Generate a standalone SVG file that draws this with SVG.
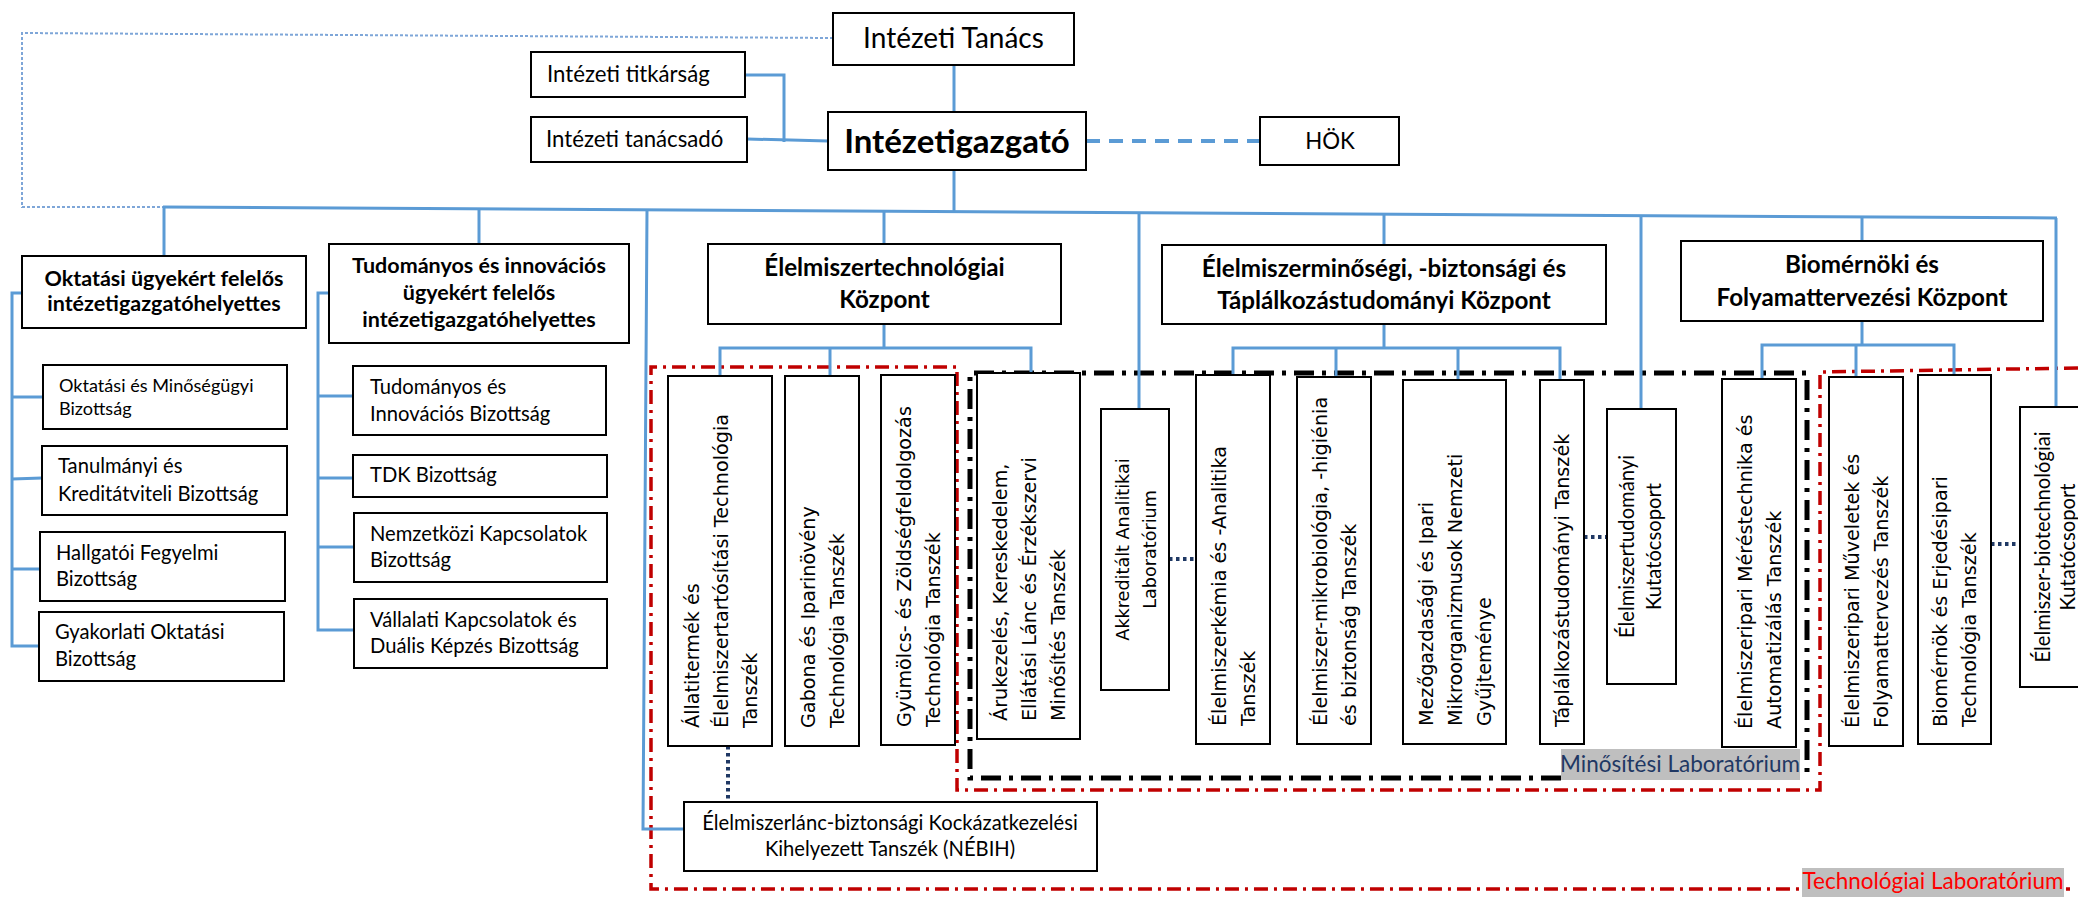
<svg xmlns="http://www.w3.org/2000/svg" width="2078" height="897" viewBox="0 0 2078 897">
<style>
.box{fill:#fff;stroke:#000;stroke-width:2}
.ln{fill:none;stroke:#5b9bd5;stroke-width:3}
.dot{fill:none;stroke:#1f3864;stroke-width:4;stroke-dasharray:3.5 3.5}
.red{fill:none;stroke:#c00000;stroke-width:3.5;stroke-dasharray:14 6 3 6}
.blk{fill:none;stroke:#000;stroke-width:5;stroke-dasharray:20 8 4 8}
.t{font-family:Lato,"Liberation Sans",sans-serif;fill:#000}
.c{text-anchor:middle}
.b{font-weight:bold}
.v{font-family:"DejaVu Sans",Verdana,sans-serif;font-size:19.2px;fill:#000}
.vs{font-family:"DejaVu Sans",Verdana,sans-serif;font-size:17.6px;fill:#000;text-anchor:middle}
.vl{font-family:Lato,"Liberation Sans",sans-serif;font-size:20.2px;fill:#000;text-anchor:middle}
.cm{font-size:20.2px}
</style>
<rect width="2078" height="897" fill="#fff"/>
<g id="regions">
<path class="red" d="M2078,368 L1820,372 L1820,790 L957,790 L957,367 L651,367 L651,889 L2070,889"/>
<path class="blk" d="M1561,778 L970,778 L970,373 L1807,373 L1807,778"/>
</g>
<g id="connectors">
<polyline fill="none" stroke="#7ea6d8" stroke-width="2" stroke-dasharray="3 2" points="833,38 22,33 22,207 163,207"/>
<line class="ln" x1="954" y1="65" x2="954" y2="112"/>
<line class="ln" x1="954" y1="170" x2="954" y2="212"/>
<polyline class="ln" points="745,75 784,75 784,142"/>
<line class="ln" x1="747" y1="139" x2="828" y2="141"/>
<line fill="none" stroke="#5b9bd5" stroke-width="4" stroke-dasharray="14 9" x1="1086" y1="141" x2="1260" y2="141"/>
<line class="ln" x1="163" y1="207" x2="2057" y2="218"/>
<line class="ln" x1="164" y1="207" x2="164" y2="256"/>
<line class="ln" x1="479" y1="209" x2="479" y2="244"/>
<polyline class="ln" points="647,210 643,829 684,829"/>
<line class="ln" x1="884" y1="211" x2="884" y2="244"/>
<line class="ln" x1="1139" y1="213" x2="1139" y2="409"/>
<line class="ln" x1="1384" y1="214" x2="1384" y2="245"/>
<line class="ln" x1="1641" y1="216" x2="1641" y2="409"/>
<line class="ln" x1="1862" y1="217" x2="1862" y2="241"/>
<line class="ln" x1="2056" y1="218" x2="2056" y2="407"/>
<polyline class="ln" points="22,293 12,293 12,646 40,646"/>
<line class="ln" x1="12" y1="397" x2="43" y2="397"/>
<line class="ln" x1="12" y1="479" x2="42" y2="478"/>
<line class="ln" x1="12" y1="569" x2="40" y2="569"/>
<polyline class="ln" points="329,293 318,293 318,630 354,630"/>
<line class="ln" x1="318" y1="396" x2="353" y2="396"/>
<line class="ln" x1="318" y1="478" x2="353" y2="478"/>
<line class="ln" x1="318" y1="547" x2="354" y2="547"/>
<line class="ln" x1="884" y1="324" x2="884" y2="348"/>
<polyline class="ln" points="720,376 720,348 1031,348 1031,373"/>
<line class="ln" x1="830" y1="348" x2="830" y2="376"/>
<line class="ln" x1="1384" y1="324" x2="1384" y2="348"/>
<polyline class="ln" points="1233,375 1233,348 1560,348 1560,380"/>
<line class="ln" x1="1336" y1="348" x2="1336" y2="377"/>
<line class="ln" x1="1458" y1="348" x2="1458" y2="380"/>
<line class="ln" x1="1862" y1="321" x2="1862" y2="345"/>
<polyline class="ln" points="1762,379 1762,345 1954,345 1954,374"/>
<line class="ln" x1="1856" y1="345" x2="1856" y2="377"/>
<line class="dot" x1="1169" y1="559" x2="1196" y2="559"/>
<line class="dot" x1="1584" y1="537" x2="1607" y2="537"/>
<line class="dot" x1="1991" y1="544" x2="2020" y2="544"/>
<line class="dot" x1="728" y1="746" x2="728" y2="802"/>
</g>
<g id="n-tanacs"><rect class="box" x="833" y="13" width="241" height="52"/><text class="t c" x="953.5" y="48" font-size="28">Intézeti Tanács</text></g>
<g id="n-titkarsag"><rect class="box" x="531" y="52" width="214" height="45"/><text class="t" x="547" y="82" font-size="22.2">Intézeti titkárság</text></g>
<g id="n-tanacsado"><rect class="box" x="531" y="117" width="216" height="45"/><text class="t" x="546" y="147" font-size="22.2">Intézeti tanácsadó</text></g>
<g id="n-igazgato"><rect class="box" x="828" y="112" width="258" height="58"/><text class="t c b" x="957" y="153" font-size="33">Intézetigazgató</text></g>
<g id="n-hok"><rect class="box" x="1260" y="117" width="139" height="48"/><text class="t c" x="1330" y="149" font-size="22.3">HÖK</text></g>
<g id="n-okt-hely"><rect class="box" x="22" y="256" width="284" height="72"/><text class="t c b" x="164" y="286" font-size="21.5">Oktatási ügyekért felelős</text><text class="t c b" x="164" y="311" font-size="21.5">intézetigazgatóhelyettes</text></g>
<g id="n-tud-hely"><rect class="box" x="329" y="244" width="300" height="99"/><text class="t c b" x="479" y="273" font-size="21.5">Tudományos és innovációs</text><text class="t c b" x="479" y="300" font-size="21.5">ügyekért felelős</text><text class="t c b" x="479" y="327" font-size="21.5">intézetigazgatóhelyettes</text></g>
<g id="n-okt-min"><rect class="box" x="43" y="365" width="244" height="64"/><text class="t" x="59" y="392" font-size="18.1">Oktatási és Minőségügyi</text><text class="t" x="59" y="415" font-size="18.1">Bizottság</text></g>
<g id="n-tanulm"><rect class="box" x="42" y="446" width="245" height="69"/><text class="t cm" x="58" y="473">Tanulmányi és</text><text class="t cm" x="58" y="501">Kreditátviteli Bizottság</text></g>
<g id="n-hallg"><rect class="box" x="40" y="532" width="245" height="69"/><text class="t cm" x="56" y="560">Hallgatói Fegyelmi</text><text class="t cm" x="56" y="586">Bizottság</text></g>
<g id="n-gyak"><rect class="box" x="39" y="612" width="245" height="69"/><text class="t cm" x="55" y="639">Gyakorlati Oktatási</text><text class="t cm" x="55" y="666">Bizottság</text></g>
<g id="n-tud-inn"><rect class="box" x="353" y="366" width="253" height="69"/><text class="t cm" x="370" y="394">Tudományos és</text><text class="t cm" x="370" y="421">Innovációs Bizottság</text></g>
<g id="n-tdk"><rect class="box" x="353" y="455" width="254" height="42"/><text class="t cm" x="370" y="482">TDK Bizottság</text></g>
<g id="n-nemz"><rect class="box" x="354" y="513" width="253" height="69"/><text class="t cm" x="370" y="541">Nemzetközi Kapcsolatok</text><text class="t cm" x="370" y="567">Bizottság</text></g>
<g id="n-vall"><rect class="box" x="354" y="599" width="253" height="69"/><text class="t cm" x="370" y="627">Vállalati Kapcsolatok és</text><text class="t cm" x="370" y="653">Duális Képzés Bizottság</text></g>
<g id="n-eltech"><rect class="box" x="708" y="244" width="353" height="80"/><text class="t c b" x="884.5" y="276" font-size="24.2">Élelmiszertechnológiai</text><text class="t c b" x="884.5" y="308" font-size="24.2">Központ</text></g>
<g id="n-elmin"><rect class="box" x="1162" y="245" width="444" height="79"/><text class="t c b" x="1384" y="277" font-size="24.2">Élelmiszerminőségi, -biztonsági és</text><text class="t c b" x="1384" y="309" font-size="24.2">Táplálkozástudományi Központ</text></g>
<g id="n-biom"><rect class="box" x="1681" y="241" width="362" height="80"/><text class="t c b" x="1862" y="273" font-size="24.2">Biomérnöki és</text><text class="t c b" x="1862" y="306" font-size="24.2">Folyamattervezési Központ</text></g>
<g id="n-allat"><rect class="box" x="668" y="376" width="104" height="370"/><text class="v" transform="translate(699,728) rotate(-90)">Állatitermék és</text><text class="v" transform="translate(728,728) rotate(-90)">Élelmiszertartósítási Technológia</text><text class="v" transform="translate(757,728) rotate(-90)">Tanszék</text></g>
<g id="n-gabona"><rect class="box" x="785" y="376" width="74" height="370"/><text class="v" transform="translate(815,728) rotate(-90)">Gabona és Iparinövény</text><text class="v" transform="translate(844,728) rotate(-90)">Technológia Tanszék</text></g>
<g id="n-gyum"><rect class="box" x="881" y="375" width="74" height="370"/><text class="v" transform="translate(911,727) rotate(-90)">Gyümölcs- és Zöldségfeldolgozás</text><text class="v" transform="translate(940,727) rotate(-90)">Technológia Tanszék</text></g>
<g id="n-aruk"><rect class="box" x="977" y="373" width="103" height="366"/><text class="v" transform="translate(1007,721) rotate(-90)">Árukezelés, Kereskedelem,</text><text class="v" transform="translate(1036,721) rotate(-90)">Ellátási Lánc és Érzékszervi</text><text class="v" transform="translate(1065,721) rotate(-90)">Minősítés Tanszék</text></g>
<g id="n-akkr"><rect class="box" x="1101" y="409" width="68" height="281"/><text class="vs" transform="translate(1129,549.5) rotate(-90)">Akkreditált Analitikai</text><text class="vs" transform="translate(1156,549.5) rotate(-90)">Laboratórium</text></g>
<g id="n-kemia"><rect class="box" x="1196" y="375" width="74" height="369"/><text class="v" transform="translate(1226,726) rotate(-90)">Élelmiszerkémia és -Analitika</text><text class="v" transform="translate(1255,726) rotate(-90)">Tanszék</text></g>
<g id="n-mikro"><rect class="box" x="1297" y="377" width="74" height="367"/><text class="v" transform="translate(1327,726) rotate(-90)">Élelmiszer-mikrobiológia, -higiénia</text><text class="v" transform="translate(1356,726) rotate(-90)">és biztonság Tanszék</text></g>
<g id="n-mezo"><rect class="box" x="1403" y="380" width="103" height="364"/><text class="v" transform="translate(1433,726) rotate(-90)">Mezőgazdasági és Ipari</text><text class="v" transform="translate(1462,726) rotate(-90)">Mikroorganizmusok Nemzeti</text><text class="v" transform="translate(1491,726) rotate(-90)">Gyűjteménye</text></g>
<g id="n-tapl"><rect class="box" x="1540" y="380" width="44" height="364"/><text class="v" transform="translate(1569,727) rotate(-90)">Táplálkozástudományi Tanszék</text></g>
<g id="n-eltud"><rect class="box" x="1607" y="409" width="69" height="275"/><text class="vl" transform="translate(1634,546.5) rotate(-90)">Élelmiszertudományi</text><text class="vl" transform="translate(1661,546.5) rotate(-90)">Kutatócsoport</text></g>
<g id="n-meres"><rect class="box" x="1722" y="379" width="74" height="368"/><text class="v" transform="translate(1752,729) rotate(-90)">Élelmiszeripari Méréstechnika és</text><text class="v" transform="translate(1781,729) rotate(-90)">Automatizálás Tanszék</text></g>
<g id="n-muv"><rect class="box" x="1829" y="377" width="74" height="369"/><text class="v" transform="translate(1859,728) rotate(-90)">Élelmiszeripari Műveletek és</text><text class="v" transform="translate(1888,728) rotate(-90)">Folyamattervezés Tanszék</text></g>
<g id="n-biomernok"><rect class="box" x="1918" y="375" width="73" height="369"/><text class="v" transform="translate(1947,727) rotate(-90)">Biomérnök és Erjedésipari</text><text class="v" transform="translate(1976,727) rotate(-90)">Technológia Tanszék</text></g>
<g id="n-biotech"><rect class="box" x="2020" y="407" width="80" height="280"/><text class="vl" transform="translate(2050,547) rotate(-90)">Élelmiszer-biotechnológiai</text><text class="vl" transform="translate(2075,547) rotate(-90)">Kutatócsoport</text></g>
<g id="n-nebih"><rect class="box" x="684" y="802" width="413" height="69"/><text class="t c cm" x="890" y="830">Élelmiszerlánc-biztonsági Kockázatkezelési</text><text class="t c cm" x="890" y="856">Kihelyezett Tanszék (NÉBIH)</text></g>
<g id="lbl-minosites"><rect x="1561" y="749" width="239" height="31" fill="#bfbfbf"/><text class="t c" x="1680" y="772" font-size="22.5" style="fill:#1f3864">Minősítési Laboratórium</text></g>
<g id="lbl-technologiai"><rect x="1802" y="868" width="262" height="29" fill="#bfbfbf"/><text class="t c" x="1933" y="889" font-size="22.5" style="fill:#ff0000">Technológiai Laboratórium</text></g>
</svg>
